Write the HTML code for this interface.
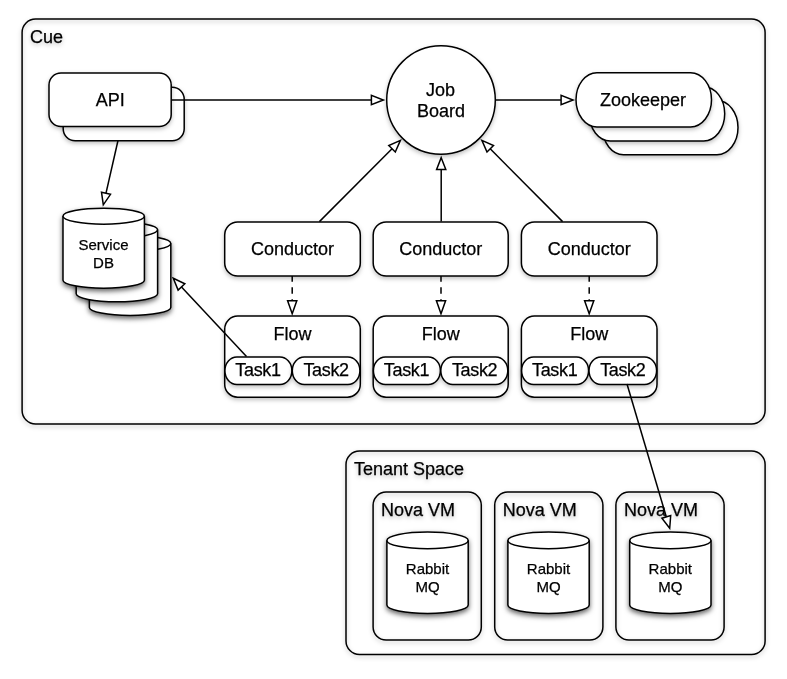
<!DOCTYPE html>
<html>
<head>
<meta charset="utf-8">
<title>Cue architecture</title>
<style>
html,body{margin:0;padding:0;background:#fff;}
body{width:787px;height:679px;overflow:hidden;}
svg{display:block;opacity:0.9999;}
text{font-family:"Liberation Sans",Arial,Helvetica,sans-serif;fill:#000;stroke:#000;stroke-width:0.25px;}
.s{fill:#fff;stroke:#000;stroke-width:1.5;}
.n{fill:none;stroke:#000;stroke-width:1.5;}
.l{fill:none;stroke:#000;stroke-width:1.5;}
.ah{fill:#fff;stroke:#000;stroke-width:1.5;stroke-linejoin:miter;}
.t18{font-size:18px;text-anchor:middle;}
.t15{font-size:15px;text-anchor:middle;}
.lab{font-size:18px;text-anchor:start;}
.tk{font-size:18px;text-anchor:middle;letter-spacing:-0.35px;}
</style>
</head>
<body>
<svg width="787" height="679" viewBox="0 0 787 679">
<defs>
<filter id="sh" x="-20%" y="-20%" width="140%" height="150%">
<feDropShadow dx="0" dy="2" stdDeviation="1.9" flood-color="#000" flood-opacity="0.25"/>
</filter>
<filter id="sh2" x="-5%" y="-5%" width="110%" height="112%">
<feDropShadow dx="0" dy="2" stdDeviation="1.9" flood-color="#000" flood-opacity="0.25"/>
</filter>
<filter id="sh3" x="-20%" y="-20%" width="140%" height="150%">
<feDropShadow dx="0" dy="2.5" stdDeviation="2.4" flood-color="#000" flood-opacity="0.6"/>
</filter>
</defs>

<!-- group containers -->
<g filter="url(#sh2)">
<rect class="n" x="22.1" y="19" width="743" height="405" rx="13.5" ry="13.5"/>
<text class="lab" x="30" y="42.7">Cue</text>
</g>
<g filter="url(#sh2)">
<rect class="n" x="346" y="451" width="419.1" height="203.5" rx="13.5" ry="13.5"/>
<text class="lab" x="354" y="474.8">Tenant Space</text>
</g>

<!-- API stack -->
<rect class="s" filter="url(#sh)" x="63.2" y="87.2" width="121" height="53.5" rx="12"/>
<rect class="s" filter="url(#sh)" x="49" y="73" width="122.2" height="53.5" rx="12"/>
<text class="t18" x="110.2" y="106">API</text>

<!-- Zookeeper stack -->
<rect class="s" filter="url(#sh)" x="602.5" y="100.5" width="135.5" height="54.2" rx="21" ry="27.1"/>
<rect class="s" filter="url(#sh)" x="589.2" y="86.7" width="135.5" height="54.2" rx="21" ry="27.1"/>
<rect class="s" filter="url(#sh)" x="576" y="72.7" width="135.5" height="54.2" rx="21" ry="27.1"/>
<text class="t18" x="643.1" y="106">Zookeeper</text>

<!-- Job board -->
<circle class="s" filter="url(#sh)" cx="441" cy="100" r="54.3"/>
<text class="t18" x="440.6" y="96">Job</text>
<text class="t18" x="441" y="117">Board</text>

<!-- Service DB stack -->
<g filter="url(#sh3)"><path class="s" d="M89.4 243.4L89.4 307.4A40.7 8.0 0 0 0 170.8 307.4L170.8 243.4A40.7 8.0 0 0 0 89.4 243.4Z"/><path class="n" d="M89.4 243.4A40.7 8.0 0 0 0 170.8 243.4"/></g>
<g filter="url(#sh3)"><path class="s" d="M76.2 229.8L76.2 293.8A40.7 8.0 0 0 0 157.6 293.8L157.6 229.8A40.7 8.0 0 0 0 76.2 229.8Z"/><path class="n" d="M76.2 229.8A40.7 8.0 0 0 0 157.6 229.8"/></g>
<g filter="url(#sh3)"><path class="s" d="M63 216.2L63 280.2A40.7 8.0 0 0 0 144.4 280.2L144.4 216.2A40.7 8.0 0 0 0 63 216.2Z"/><path class="n" d="M63 216.2A40.7 8.0 0 0 0 144.4 216.2"/></g>
<text class="t15" x="103.5" y="250">Service</text>
<text class="t15" x="103.5" y="267.8">DB</text>
<!-- column 1 -->
<rect class="s" filter="url(#sh)" x="224.7" y="222" width="135.6" height="54" rx="13"/>
<text class="t18" x="292.5" y="254.6">Conductor</text>
<rect class="s" filter="url(#sh)" x="224.7" y="316.1" width="135.6" height="81.1" rx="13"/>
<text class="t18" x="292.5" y="339.9">Flow</text>
<rect class="s" filter="url(#sh)" x="224.9" y="357" width="67" height="27.4" rx="12" ry="13.7"/>
<text class="tk" x="258.0" y="375.5">Task1</text>
<rect class="s" filter="url(#sh)" x="292.3" y="357" width="67.6" height="27.4" rx="12" ry="13.7"/>
<text class="tk" x="326.1" y="375.5">Task2</text>
<!-- column 2 -->
<rect class="s" filter="url(#sh)" x="373.2" y="222" width="135.0" height="54" rx="13"/>
<text class="t18" x="440.7" y="254.6">Conductor</text>
<rect class="s" filter="url(#sh)" x="373.2" y="316.1" width="135.0" height="81.1" rx="13"/>
<text class="t18" x="440.7" y="339.9">Flow</text>
<rect class="s" filter="url(#sh)" x="373.4" y="357" width="67" height="27.4" rx="12" ry="13.7"/>
<text class="tk" x="406.5" y="375.5">Task1</text>
<rect class="s" filter="url(#sh)" x="440.8" y="357" width="67.0" height="27.4" rx="12" ry="13.7"/>
<text class="tk" x="474.6" y="375.5">Task2</text>
<!-- column 3 -->
<rect class="s" filter="url(#sh)" x="521.4" y="222" width="135.6" height="54" rx="13"/>
<text class="t18" x="589.2" y="254.6">Conductor</text>
<rect class="s" filter="url(#sh)" x="521.4" y="316.1" width="135.6" height="81.1" rx="13"/>
<text class="t18" x="589.2" y="339.9">Flow</text>
<rect class="s" filter="url(#sh)" x="521.6" y="357" width="67" height="27.4" rx="12" ry="13.7"/>
<text class="tk" x="554.7" y="375.5">Task1</text>
<rect class="s" filter="url(#sh)" x="589.0" y="357" width="67.6" height="27.4" rx="12" ry="13.7"/>
<text class="tk" x="622.8" y="375.5">Task2</text>
<!-- nova 1 -->
<g filter="url(#sh2)"><rect class="n" x="373.1" y="492.1" width="108.2" height="148" rx="13"/>
<text class="lab" x="381.1" y="515.7">Nova VM</text></g>
<g filter="url(#sh3)"><path class="s" d="M386.9 540.4L386.9 605.0A40.65 8.4 0 0 0 468.2 605.0L468.2 540.4A40.65 8.4 0 0 0 386.9 540.4Z"/><path class="n" d="M386.9 540.4A40.65 8.4 0 0 0 468.2 540.4"/></g>
<text class="t15" x="427.5" y="573.8">Rabbit</text>
<text class="t15" x="427.5" y="591.6">MQ</text>
<!-- nova 2 -->
<g filter="url(#sh2)"><rect class="n" x="494.7" y="492.1" width="108.2" height="148" rx="13"/>
<text class="lab" x="502.7" y="515.7">Nova VM</text></g>
<g filter="url(#sh3)"><path class="s" d="M507.9 540.4L507.9 605.0A40.65 8.4 0 0 0 589.2 605.0L589.2 540.4A40.65 8.4 0 0 0 507.9 540.4Z"/><path class="n" d="M507.9 540.4A40.65 8.4 0 0 0 589.2 540.4"/></g>
<text class="t15" x="548.5" y="573.8">Rabbit</text>
<text class="t15" x="548.5" y="591.6">MQ</text>
<!-- nova 3 -->
<g filter="url(#sh2)"><rect class="n" x="615.9" y="492.1" width="108.2" height="148" rx="13"/>
<text class="lab" x="623.9" y="515.7">Nova VM</text></g>
<g filter="url(#sh3)"><path class="s" d="M629.7 540.4L629.7 605.0A40.65 8.4 0 0 0 711.0 605.0L711.0 540.4A40.65 8.4 0 0 0 629.7 540.4Z"/><path class="n" d="M629.7 540.4A40.65 8.4 0 0 0 711.0 540.4"/></g>
<text class="t15" x="670.3" y="573.8">Rabbit</text>
<text class="t15" x="670.3" y="591.6">MQ</text>
<!-- connectors -->
<path class="l" d="M171.5 100.0L371.4 100.0"/>
<path class="ah" d="M383.3 100.0L371.4 104.6L371.4 95.4Z"/>
<path class="l" d="M495.3 100.0L561.1 100.0"/>
<path class="ah" d="M573.0 100.0L561.1 104.6L561.1 95.4Z"/>
<path class="l" d="M118.0 140.5L106.0 193.2"/>
<path class="ah" d="M103.3 204.8L101.5 192.2L110.5 194.3Z"/>
<path class="l" d="M319.4 221.6L392.0 148.8"/>
<path class="ah" d="M400.4 140.4L395.3 152.0L388.8 145.5Z"/>
<path class="l" d="M441.2 221.6L441.2 169.6"/>
<path class="ah" d="M441.2 157.7L445.8 169.6L436.6 169.6Z"/>
<path class="l" d="M562.6 221.6L490.2 148.8"/>
<path class="ah" d="M481.9 140.4L493.5 145.6L487.0 152.0Z"/>
<path class="l" d="M246.5 356.4L181.5 287.0"/>
<path class="ah" d="M173.3 278.3L184.8 283.8L178.1 290.1Z"/>
<path class="l" d="M627.0 384.0L666.3 516.9"/>
<path class="ah" d="M669.7 528.3L661.9 518.2L670.7 515.5Z"/>
<path class="l" stroke-dasharray="6.6 5.4" stroke-dashoffset="0.8" d="M292.2 276.0L292.2 300.8"/>
<path class="ah" d="M292.2 313.8L287.6 300.8L296.8 300.8Z"/>
<path class="l" stroke-dasharray="6.6 5.4" stroke-dashoffset="0.8" d="M441.0 276.0L441.0 300.8"/>
<path class="ah" d="M441.0 313.8L436.4 300.8L445.6 300.8Z"/>
<path class="l" stroke-dasharray="6.6 5.4" stroke-dashoffset="0.8" d="M589.2 276.0L589.2 300.8"/>
<path class="ah" d="M589.2 313.8L584.6 300.8L593.8 300.8Z"/>
</svg>
</body>
</html>
